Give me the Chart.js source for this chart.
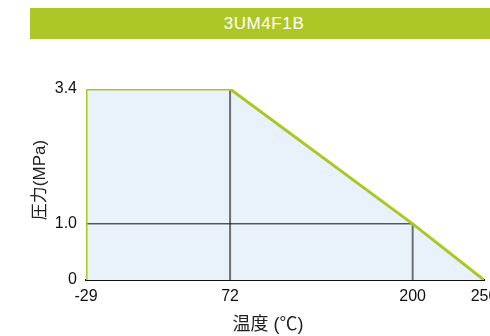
<!DOCTYPE html>
<html lang="ja">
<head>
  <meta charset="UTF-8">
  <title>3UM4F1B</title>
  <script src="https://cdn.jsdelivr.net/npm/chart.js"></script>
  <style>
    body {
      margin: 0;
      background: #fff;
      font-family: "Liberation Sans", Arial, "Noto Sans CJK JP", sans-serif;
    }
    .wrap {
      position: relative;
      width: 490px;
      height: 336px;
      overflow: hidden;
    }
    .bar {
      position: absolute;
      left: 30px;
      top: 8px;
      width: 468px;
      height: 31px;
      line-height: 32px;
      background-color: #adc826;
      color: #fff;
      font-size: 17px;
      letter-spacing: 0.6px;
      text-align: center;
    }
    canvas {
      position: absolute;
      left: 0;
      top: 0;
    }
  </style>
</head>
<body>
  <div class="wrap">
    <div class="bar">3UM4F1B</div>
    <canvas id="ptChart" width="490" height="336"></canvas>
  </div>

  <script>
    // Pressure / temperature rating outline
    const temps = [-29, -29, 72, 200, 250];
    const pressures = [0, 3.4, 3.4, 1.0, 0];

    // Reference lines at the marked points
    const refX = [72, 200];
    const refY = [3.4, 1.0];

    const xTicks = [-29, 72, 200, 250];
    const xTickLabels = ['-29', '72', '200', '250'];
    const yTicks = [0, 1.0, 3.4];
    const yTickLabels = ['0', '1.0', '3.4'];

    const xTitle = '温度 (℃)';
    const yTitle = '圧力(MPa)';

    const green = '#a9c824';
    const fontFamily = '"Liberation Sans", Arial, "Noto Sans CJK JP", sans-serif';

    // axis titles sit a little off the plot centre in the original, so draw them by hand
    const axisTitlePlugin = {
      id: 'axisTitles',
      afterDraw(chart) {
        const c = chart.ctx;
        c.save();
        c.fillStyle = '#222';
        c.textAlign = 'center';
        c.textBaseline = 'middle';
        c.font = '18px ' + fontFamily;
        c.fillText(xTitle, 268, 325);
        c.translate(40, 180);
        c.rotate(-Math.PI / 2);
        c.font = '17px ' + fontFamily;
        c.fillText(yTitle, 0, 0);
        c.restore();
      }
    };

    const datasets = [
      {
        data: temps.map((t, i) => ({ x: t, y: pressures[i] })),
        borderColor: green,
        borderWidth: 3,
        backgroundColor: '#e9f1fb',
        fill: 'origin',
        pointRadius: 0,
        showLine: true,
        tension: 0,
      },
      {
        data: [{ x: temps[0], y: refY[1] }, { x: refX[1], y: refY[1] }],
        borderColor: '#111',
        borderWidth: 1,
        pointRadius: 0,
        showLine: true,
      },
      {
        data: [{ x: refX[0], y: 0 }, { x: refX[0], y: refY[0] }],
        borderColor: '#6e6e6e',
        borderWidth: 2,
        pointRadius: 0,
        showLine: true,
      },
      {
        data: [{ x: refX[1], y: 0 }, { x: refX[1], y: refY[1] }],
        borderColor: '#6e6e6e',
        borderWidth: 2,
        pointRadius: 0,
        showLine: true,
      },
    ];

    const ctx = document.getElementById('ptChart').getContext('2d');
    const ptChart = new Chart(ctx, {
      type: 'scatter',
      data: { datasets: datasets },
      plugins: [axisTitlePlugin],
      options: {
        responsive: false,
        animation: false,
        layout: { padding: { left: 30, right: 6, top: 89, bottom: 0 } },
        plugins: {
          legend: { display: false },
          tooltip: { enabled: false },
          filler: { drawTime: 'beforeDatasetsDraw' },
        },
        scales: {
          x: {
            type: 'linear',
            min: -29,
            max: 250,
            grid: { display: false, drawTicks: false },
            border: { display: true, color: '#111', width: 2 },
            afterBuildTicks: scale => { scale.ticks = xTicks.map(v => ({ value: v })); },
            afterFit: scale => {
              scale.height = 56;
              scale.paddingLeft = 0;
              scale.paddingRight = 0;
            },
            ticks: {
              autoSkip: false,
              maxRotation: 0,
              padding: 7,
              color: '#111',
              font: { family: fontFamily, size: 16 },
              callback: (value, index) => xTickLabels[index],
            },
          },
          y: {
            type: 'linear',
            min: 0,
            max: 3.4,
            grid: { display: false, drawTicks: false },
            border: { display: false },
            afterBuildTicks: scale => { scale.ticks = yTicks.map(v => ({ value: v })); },
            afterFit: scale => { scale.width = 56; },
            ticks: {
              padding: 9,
              color: '#111',
              font: { family: fontFamily, size: 16 },
              callback: (value, index) => yTickLabels[index],
            },
          },
        },
      },
    });
  </script>
</body>
</html>
